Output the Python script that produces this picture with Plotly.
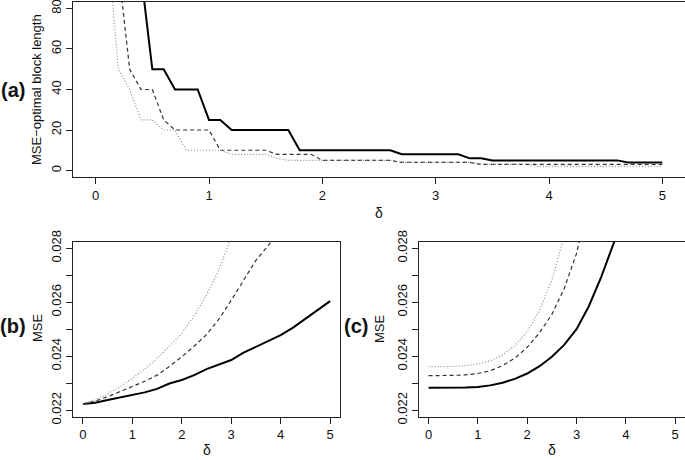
import plotly.graph_objects as go

# ---------------- data ----------------
# Panel (a): MSE-optimal block length vs delta (grid of 0.1)
delta_a = [0.0, 0.1, 0.2, 0.3, 0.4, 0.5, 0.6, 0.7, 0.8, 0.9,
           1.0, 1.1, 1.2, 1.3, 1.4, 1.5, 1.6, 1.7, 1.8, 1.9,
           2.0, 2.1, 2.2, 2.3, 2.4, 2.5, 2.6, 2.7, 2.8, 2.9,
           3.0, 3.1, 3.2, 3.3, 3.4, 3.5, 3.6, 3.7, 3.8, 3.9,
           4.0, 4.1, 4.2, 4.3, 4.4, 4.5, 4.6, 4.7, 4.8, 4.9, 5.0]
block_solid = [250, 200, 150, 120, 97, 50, 50, 40, 40, 40,
               25, 25, 20, 20, 20, 20, 20, 20, 10, 10,
               10, 10, 10, 10, 10, 10, 10, 8, 8, 8,
               8, 8, 8, 6, 6, 5, 5, 5, 5, 5,
               5, 5, 5, 5, 5, 5, 5, 4, 4, 4, 4]
block_dashed = [250, 150, 100, 50, 40, 40, 25, 20, 20, 20,
                20, 10, 10, 10, 10, 10, 8, 8, 8, 8,
                5, 5, 5, 5, 5, 5, 5, 4, 4, 4,
                4, 4, 4, 4, 3, 3, 3, 3, 3, 3,
                3, 3, 3, 3, 3, 3, 3, 3, 3, 3, 3]
block_dotted = [200, 115, 50, 40, 25, 25, 20, 20, 10, 10,
                10, 10, 8, 8, 8, 8, 6, 5, 5, 5,
                5, 5, 5, 5, 5, 5, 5, 4, 4, 4,
                4, 4, 4, 4, 3, 3, 3, 3, 3, 2,
                2, 2, 2, 2, 2, 2, 2, 2, 2, 2, 2]

# Panels (b) and (c): MSE vs delta (grid of 0.25)
delta_bc = [0.0, 0.25, 0.5, 0.75, 1.0, 1.25, 1.5, 1.75, 2.0, 2.25, 2.5,
            2.75, 3.0, 3.25, 3.5, 3.75, 4.0, 4.25, 4.5, 4.75, 5.0]
mse_b_solid = [0.02223, 0.02228, 0.02238, 0.02247, 0.02256, 0.02266, 0.02279,
               0.02299, 0.02312, 0.02330, 0.02352, 0.02368, 0.02386, 0.02413,
               0.02435, 0.02455, 0.02478, 0.02506, 0.02539, 0.02572, 0.02604]
mse_b_dashed = [0.02223, 0.02234, 0.02250, 0.02268, 0.02287, 0.02307, 0.02330,
                0.02362, 0.02398, 0.02437, 0.02480, 0.02537, 0.02607, 0.02680,
                0.02755, 0.02810, 0.02870, 0.02940, 0.03010, 0.03090, 0.03170]
mse_b_dotted = [0.02223, 0.02238, 0.02260, 0.02287, 0.02318, 0.02352, 0.02392,
                0.02436, 0.02484, 0.02550, 0.02626, 0.02720, 0.02840, 0.02960,
                0.03090, 0.03230, 0.03380, 0.03540, 0.03710, 0.03890, 0.04080]
mse_c_solid = [0.02283, 0.02283, 0.02283, 0.02284, 0.02286, 0.02292, 0.02302,
               0.02316, 0.02336, 0.02363, 0.02398, 0.02442, 0.02500, 0.02585,
               0.02693, 0.02812, 0.02940, 0.03090, 0.03250, 0.03420, 0.03600]
mse_c_dashed = [0.02328, 0.02328, 0.02329, 0.02331, 0.02336, 0.02346, 0.02365,
                0.02393, 0.02433, 0.02487, 0.02555, 0.02650, 0.02780, 0.02980,
                0.03200, 0.03450, 0.03720, 0.04000, 0.04300, 0.04620, 0.04960]
mse_c_dotted = [0.02361, 0.02361, 0.02362, 0.02365, 0.02371, 0.02383, 0.02404,
                0.02440, 0.02490, 0.02570, 0.02681, 0.02845, 0.03050, 0.03300,
                0.03580, 0.03900, 0.04250, 0.04630, 0.05040, 0.05480, 0.05950]

x_ticks = [0, 1, 2, 3, 4, 5]
a_yticks = [0, 20, 40, 60, 80]
bc_yticks = [0.022, 0.023, 0.024, 0.025, 0.026, 0.027, 0.028]
bc_yticktext = ["0.022", "", "0.024", "", "0.026", "", "0.028"]

# ---------------- figure ----------------
W, H = 685, 460
FONT = "Liberation Sans, Arial, sans-serif"
AX = "#222222"

styles = [
    dict(color="#000000", width=2.0, dash="solid"),
    dict(color="#333333", width=1.2, dash="4px,3px"),
    dict(color="#8a8a8a", width=1.2, dash="1px,2px"),
]

fig = go.Figure()
for ys, st in zip([block_solid, block_dashed, block_dotted], styles):
    fig.add_trace(go.Scatter(x=delta_a, y=ys, mode="lines", line=st,
                             xaxis="x", yaxis="y", showlegend=False))
for ys, st in zip([mse_b_solid, mse_b_dashed, mse_b_dotted], styles):
    fig.add_trace(go.Scatter(x=delta_bc, y=ys, mode="lines", line=st,
                             xaxis="x2", yaxis="y2", showlegend=False))
for ys, st in zip([mse_c_solid, mse_c_dashed, mse_c_dotted], styles):
    fig.add_trace(go.Scatter(x=delta_bc, y=ys, mode="lines", line=st,
                             xaxis="x3", yaxis="y3", showlegend=False))


def px_x(p):
    return p / W


def px_y(p):
    return 1 - p / H


common_x = dict(range=[-0.2, 5.2], tickvals=x_ticks, ticks="outside", ticklen=6,
                tickcolor=AX, showline=True, linecolor=AX, linewidth=1,
                mirror=True, showgrid=False, zeroline=False, automargin=False,
                ticklabeloverflow="allow",
                tickfont=dict(family=FONT, size=13, color="#111"))
common_y = dict(ticks="outside", ticklen=6, tickcolor=AX, showline=True,
                linecolor=AX, linewidth=1, showgrid=False, zeroline=False,
                automargin=False, tickangle=-90, ticklabeloverflow="allow",
                tickfont=dict(family=FONT, size=13, color="#111"))

fig.update_layout(
    width=W, height=H, autosize=False,
    margin=dict(l=0, r=0, t=0, b=0, pad=0),
    paper_bgcolor="white", plot_bgcolor="white",
    xaxis=dict(domain=[px_x(73), 1.0], anchor="y", **common_x),
    yaxis=dict(domain=[px_y(177), px_y(2)], anchor="x", range=[-3.2, 83.2],
               tickvals=a_yticks, mirror=False, **common_y),
    xaxis2=dict(domain=[px_x(73), px_x(340)], anchor="y2", **common_x),
    yaxis2=dict(domain=[px_y(416.7), px_y(241.7)], anchor="x2",
                range=[0.02176, 0.02824], tickvals=bc_yticks,
                ticktext=bc_yticktext, mirror=True, **common_y),
    xaxis3=dict(domain=[px_x(418.7), 1.0], anchor="y3", **common_x),
    yaxis3=dict(domain=[px_y(416.7), px_y(241.7)], anchor="x3",
                range=[0.02176, 0.02824], tickvals=bc_yticks,
                ticktext=bc_yticktext, mirror=False, **common_y),
)

ann = [
    # (text, x px, y px, size, angle)
    ("MSE\u2212optimal block length", 37, 90, 13, -90),
    ("\u03b4", 379, 213, 14, 0),
    ("MSE", 37, 328, 13, -90),
    ("\u03b4", 207, 450, 14, 0),
    ("MSE", 379, 328, 13, -90),
    ("\u03b4", 552, 450, 14, 0),
    ("<b>(a)</b>", 13, 90, 20, 0),
    ("<b>(b)</b>", 13, 326, 20, 0),
    ("<b>(c)</b>", 356, 326, 20, 0),
]
for text, x, y, size, ang in ann:
    fig.add_annotation(text=text, x=px_x(x), y=px_y(y), xref="paper", yref="paper",
                       xanchor="center", yanchor="middle", showarrow=False,
                       textangle=ang, font=dict(family=FONT, size=size, color="#111"))

fig.write_html("out.html",
               config={"displayModeBar": False},
               post_script="document.body.style.margin='0px';"
                           "document.body.style.overflow='hidden';")
